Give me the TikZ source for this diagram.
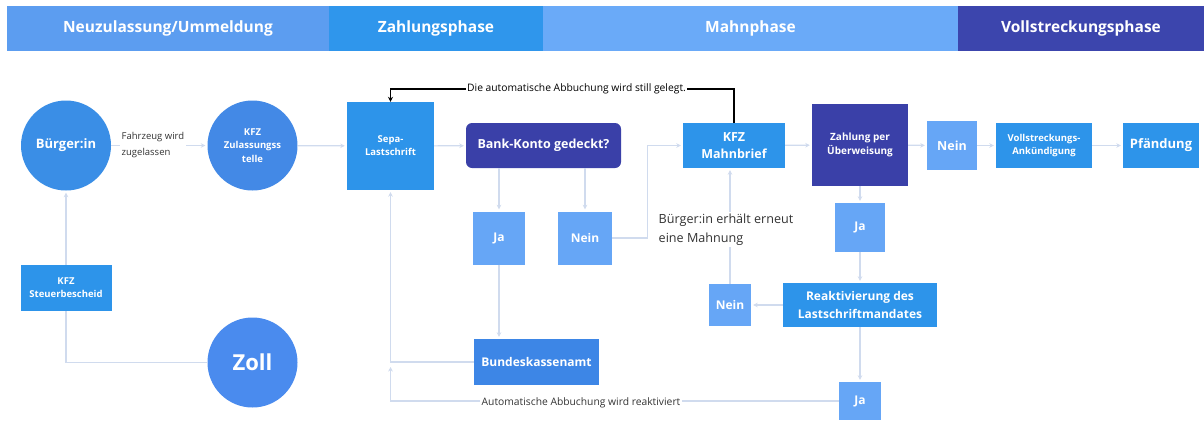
\documentclass[tikz,border=0pt]{standalone}
\usepackage{fontspec}
\setmainfont{Open Sans}
\usetikzlibrary{arrows.meta,calc}
\definecolor{hdrA}{HTML}{5C9DF0}
\definecolor{hdrB}{HTML}{2F96EC}
\definecolor{hdrC}{HTML}{6AAAF8}
\definecolor{hdrD}{HTML}{3C45AD}
\definecolor{circA}{HTML}{3A8EE6}
\definecolor{circB}{HTML}{4389E6}
\definecolor{circC}{HTML}{4A8BEE}
\definecolor{boxblue}{HTML}{2D94EA}
\definecolor{boxindigo}{HTML}{3A40A8}
\definecolor{boxlight}{HTML}{66A6F6}
\definecolor{boxmid}{HTML}{3D86E6}
\definecolor{connc}{HTML}{D0DBEE}
\definecolor{annot}{HTML}{333333}
\tikzset{
  hdr/.style={rectangle, inner sep=0, minimum height=45pt, text=white,
    font=\fontsize{15.5}{18}\selectfont\bfseries},
  circ/.style={circle, inner sep=0, minimum size=90pt, text=white, align=center},
  stepbox/.style={rectangle, inner sep=0, text=white, align=center},
  conn/.style={draw=connc, line width=1.2pt, -{Stealth[length=4.5pt,width=4.5pt]}, shorten >=2pt},
  plainconn/.style={draw=connc, line width=1.2pt},
  blk/.style={draw=black, line width=1.4pt, -{Stealth[length=5pt,width=5pt]}},
  lbl/.style={fill=white, inner sep=1.5pt, text=annot},
}
\begin{document}
\begin{tikzpicture}[x=1pt,y=-1pt]
\useasboundingbox (0,0) rectangle (1204,421);
\fill[white] (0,0) rectangle (1204,421);
% header
\node[hdr, fill=hdrA, minimum width=322pt] (h1) at (168,28.5) {Neuzulassung/Ummeldung};
\node[hdr, fill=hdrB, minimum width=214pt] (h2) at (436,28.5) {Zahlungsphase};
\node[hdr, fill=hdrC, minimum width=415pt] (h3) at (750.5,28.5) {Mahnphase};
\node[hdr, fill=hdrD, minimum width=246pt] (h4) at (1081,28.5) {Vollstreckungsphase};
% circles
\node[circ, fill=circA, font=\fontsize{13}{15}\selectfont\bfseries] (buerger) at (66,145.5) {Bürger:in};
\node[circ, fill=circB, font=\fontsize{9.5}{13.5}\selectfont\bfseries] (kfz) at (252.5,145.5) {KFZ\\Zulassungss\\telle};
\node[circ, fill=circC, font=\fontsize{22}{24}\selectfont\bfseries] (zoll) at (252.5,362.5) {Zoll};
% boxes
\node[stepbox, fill=boxblue, minimum width=91pt, minimum height=46pt, font=\fontsize{9.5}{13}\selectfont\bfseries] (steuer) at (66,288) {KFZ\\Steuerbescheid};
\node[stepbox, fill=boxblue, minimum width=87pt, minimum height=88pt, font=\fontsize{9.5}{13}\selectfont\bfseries] (sepa) at (390.5,146) {Sepa-\\Lastschrift};
\node[stepbox, fill=boxindigo, rounded corners=6pt, minimum width=155pt, minimum height=45pt, font=\fontsize{12.5}{15}\selectfont\bfseries] (bank) at (543.5,145.5) {Bank-Konto gedeckt?};
\node[stepbox, fill=boxlight, minimum width=52pt, minimum height=53pt, font=\fontsize{12}{14}\selectfont\bfseries] (ja1) at (499,238) {Ja};
\node[stepbox, fill=boxlight, minimum width=54pt, minimum height=53pt, font=\fontsize{12}{14}\selectfont\bfseries] (nein1) at (585,238) {Nein};
\node[stepbox, fill=boxmid, minimum width=125pt, minimum height=46pt, font=\fontsize{12}{14}\selectfont\bfseries] (bka) at (536.5,362) {Bundeskassenamt};
\node[stepbox, fill=boxblue, minimum width=102pt, minimum height=45pt, font=\fontsize{12.5}{17}\selectfont\bfseries] (mahn) at (734,145.5) {KFZ\\Mahnbrief};
\node[stepbox, fill=boxindigo, minimum width=96pt, minimum height=82pt, font=\fontsize{10}{14}\selectfont\bfseries] (zahl) at (860,145) {Zahlung per\\Überweisung};
\node[stepbox, fill=boxlight, minimum width=50pt, minimum height=49pt, font=\fontsize{12.5}{14}\selectfont\bfseries] (nein3) at (952,145.5) {Nein};
\node[stepbox, fill=boxblue, minimum width=96pt, minimum height=45pt, font=\fontsize{9.5}{13}\selectfont\bfseries] (vollstr) at (1044,145.5) {Vollstreckungs-\\Ankündigung};
\node[stepbox, fill=boxblue, minimum width=76pt, minimum height=45pt, font=\fontsize{13}{15}\selectfont\bfseries] (pfand) at (1161,145.5) {Pfändung};
\node[stepbox, fill=boxlight, minimum width=50pt, minimum height=49pt, font=\fontsize{12}{14}\selectfont\bfseries] (ja2) at (860,227.5) {Ja};
\node[stepbox, fill=boxblue, minimum width=154pt, minimum height=44pt, font=\fontsize{12}{18}\selectfont\bfseries] (reakt) at (860,305) {Reaktivierung des\\Lastschriftmandates};
\node[stepbox, fill=boxlight, minimum width=42pt, minimum height=42pt, font=\fontsize{12}{14}\selectfont\bfseries] (nein2) at (730,305) {Nein};
\node[stepbox, fill=boxlight, minimum width=42pt, minimum height=38pt, font=\fontsize{12}{14}\selectfont\bfseries] (ja3) at (860,401) {Ja};
% connectors
\draw[conn] (buerger) -- (kfz);
\draw[conn] (kfz) -- (sepa);
\draw[conn] (sepa) -- (bank);
\draw[conn] (bank.south -| ja1) -- (ja1);
\draw[conn] (bank.south -| nein1) -- (nein1);
\draw[conn] (ja1) -- (ja1 |- bka.north);
\draw[conn] (bka.west) -| (sepa.south);
\draw[conn] (ja3.west) -- (ja3.west -| sepa.south) -- ++(0,-36);
\draw[conn] (nein1.east) -- ++(35,0) |- (mahn.west);
\draw[conn] (mahn) -- (zahl);
\draw[conn] (zahl) -- (nein3);
\draw[conn] (nein3) -- (vollstr);
\draw[conn] (vollstr) -- (pfand);
\draw[conn] (zahl) -- (ja2);
\draw[conn] (ja2) -- (reakt);
\draw[conn] (reakt) -- (nein2);
\draw[conn] (reakt) -- (ja3);
\draw[conn] (nein2.north) -- (nein2.north |- mahn.south);
\draw[conn] (steuer.north) -- (buerger.south);
\draw[plainconn] (zoll.west) -| (steuer.south);
\draw[blk] (mahn.north) -- ++(0,-34) -| (sepa.north);
% labels
\node[lbl, anchor=west, align=left, font=\fontsize{9.5}{16}\selectfont] (lfz) at (120,145.5) {Fahrzeug wird\\zugelassen};
\node[lbl, text=black, font=\fontsize{10.3}{12}\selectfont] (lstill) at (576.5,89) {Die automatische Abbuchung wird still gelegt.};
\node[lbl, anchor=west, align=left, font=\fontsize{12.6}{19}\selectfont] (lmahn) at (657,229.5) {Bürger:in erhält erneut\\eine Mahnung};
\node[lbl, font=\fontsize{10.3}{12}\selectfont] (lreakt) at (581,402.5) {Automatische Abbuchung wird reaktiviert};
\end{tikzpicture}
\end{document}
